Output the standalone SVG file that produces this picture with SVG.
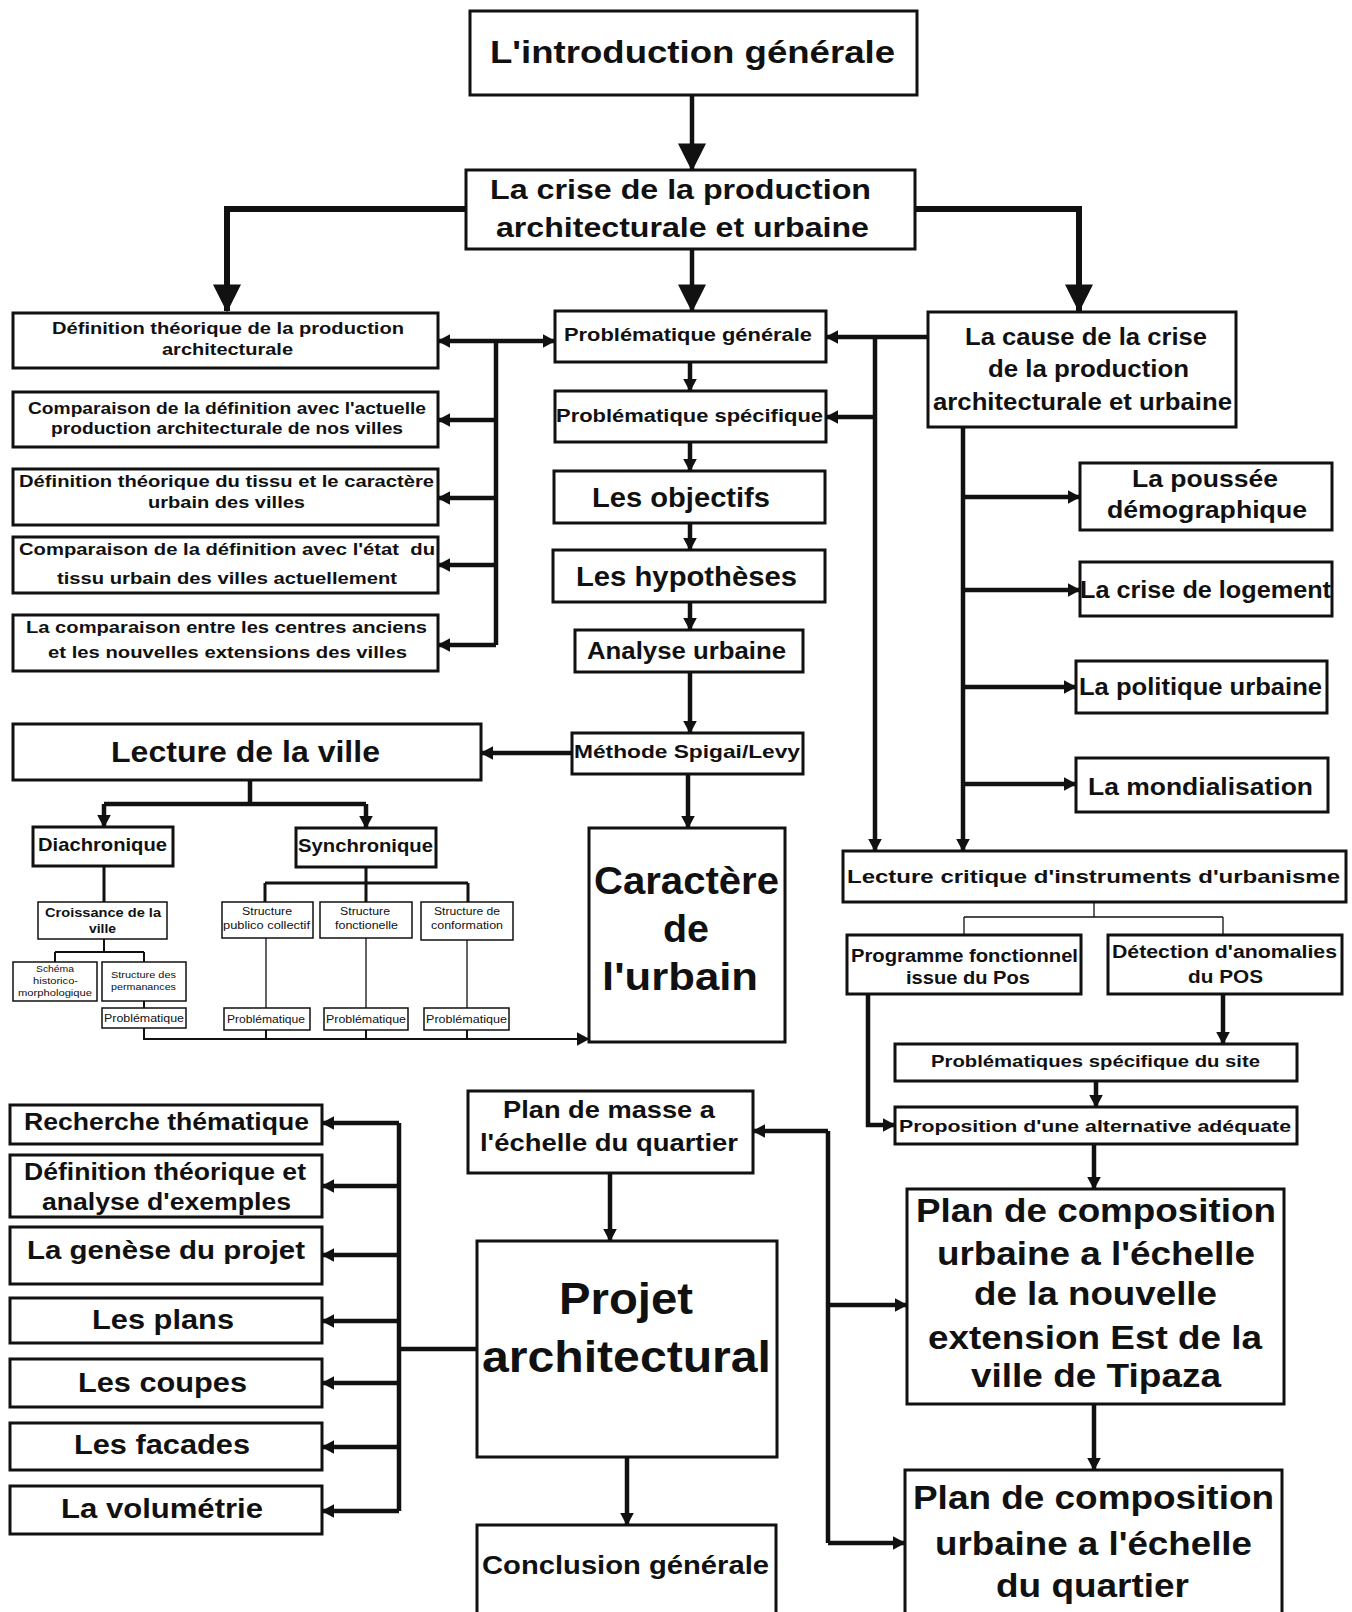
<svg xmlns="http://www.w3.org/2000/svg" width="1352" height="1612" viewBox="0 0 1352 1612">
<style>
.b{fill:#fff;stroke:#111;stroke-width:3}
.bt{fill:#fff;stroke:#111;stroke-width:1.5}
.t{font-family:"Liberation Sans",Arial,sans-serif;font-weight:bold;fill:#111}
.n{font-family:"Liberation Sans",Arial,sans-serif;font-weight:normal;fill:#111}
.c{fill:none;stroke:#111;stroke-width:4.5}
.c6{fill:none;stroke:#111;stroke-width:6}
.c3{fill:none;stroke:#111;stroke-width:3}
.c2{fill:none;stroke:#111;stroke-width:2}
.c1{fill:none;stroke:#111;stroke-width:1.3}
</style>
<defs>
<marker id="aB" viewBox="0 0 10 10" refX="9.5" refY="5" markerWidth="28" markerHeight="28" markerUnits="userSpaceOnUse" orient="auto" preserveAspectRatio="none"><path d="M0,0 L10,5 L0,10 z" fill="#111"/></marker>
<marker id="aM" viewBox="0 0 10 10" refX="9.5" refY="5" markerWidth="13" markerHeight="14" markerUnits="userSpaceOnUse" orient="auto-start-reverse" preserveAspectRatio="none"><path d="M0,0 L10,5 L0,10 z" fill="#111"/></marker>
</defs>
<rect width="1352" height="1612" fill="#fff"/>

<g id="connectors">
<path class="c" d="M692,95 V170" marker-end="url(#aB)"/>
<path class="c6" d="M466,209 H227 V311" marker-end="url(#aB)"/>
<path class="c6" d="M915,209 H1079 V311" marker-end="url(#aB)"/>
<path class="c" d="M692,249 V311" marker-end="url(#aB)"/>
<path class="c" d="M438,341 H555" marker-start="url(#aM)" marker-end="url(#aM)"/>
<path class="c" d="M496,341 V645"/>
<path class="c" d="M496,420 H438" marker-end="url(#aM)"/>
<path class="c" d="M496,498 H438" marker-end="url(#aM)"/>
<path class="c" d="M496,565 H438" marker-end="url(#aM)"/>
<path class="c" d="M496,645 H438" marker-end="url(#aM)"/>
<path class="c" d="M690,362 V391" marker-end="url(#aM)"/>
<path class="c" d="M690,442 V471" marker-end="url(#aM)"/>
<path class="c" d="M690,523 V550" marker-end="url(#aM)"/>
<path class="c" d="M690,602 V630" marker-end="url(#aM)"/>
<path class="c" d="M690,672 V733" marker-end="url(#aM)"/>
<path class="c" d="M928,337 H826" marker-end="url(#aM)"/>
<path class="c" d="M875,337 V851" marker-end="url(#aM)"/>
<path class="c" d="M875,417 H826" marker-end="url(#aM)"/>
<path class="c" d="M963,427 V851" marker-end="url(#aM)"/>
<path class="c" d="M963,497 H1080" marker-end="url(#aM)"/>
<path class="c" d="M963,590 H1080" marker-end="url(#aM)"/>
<path class="c" d="M963,687 H1076" marker-end="url(#aM)"/>
<path class="c" d="M963,784 H1076" marker-end="url(#aM)"/>
<path class="c" d="M572,753 H481" marker-end="url(#aM)"/>
<path class="c" d="M688,774 V828" marker-end="url(#aM)"/>
<path class="c" d="M250,780 V804 M104,804 H366"/>
<path class="c" d="M104,804 V827" marker-end="url(#aM)"/>
<path class="c" d="M366,804 V828" marker-end="url(#aM)"/>
<path class="c3" d="M104,866 V902"/>
<path class="c2" d="M104,939 V952 M55,952 H144 M55,952 V962 M144,952 V962"/>
<path class="c3" d="M366,867 V883 M265,883 H468 M265,883 V902 M366,883 V902 M468,883 V902"/>
<path class="c1" d="M266,938 V1008 M366,938 V1008 M467,940 V1008"/>
<path class="c2" d="M144,1001 V1008"/>
<path class="c2" d="M144,1028 V1039 H589" marker-end="url(#aM)"/>
<path class="c2" d="M266,1030 V1039 M366,1030 V1039 M467,1030 V1039"/>
<path class="c1" d="M1094,902 V917 M964,917 H1223 M964,917 V935 M1223,917 V935"/>
<path class="c" d="M1223,994 V1044" marker-end="url(#aM)"/>
<path class="c" d="M1096,1081 V1107" marker-end="url(#aM)"/>
<path class="c" d="M868,994 V1125 H895" marker-end="url(#aM)"/>
<path class="c" d="M1094,1144 V1189" marker-end="url(#aM)"/>
<path class="c" d="M1094,1404 V1470" marker-end="url(#aM)"/>
<path class="c" d="M828,1131 H753" marker-end="url(#aM)"/>
<path class="c" d="M828,1131 V1543"/>
<path class="c" d="M828,1305 H907" marker-end="url(#aM)"/>
<path class="c" d="M828,1543 H905" marker-end="url(#aM)"/>
<path class="c" d="M610,1173 V1241" marker-end="url(#aM)"/>
<path class="c" d="M627,1457 V1525" marker-end="url(#aM)"/>
<path class="c" d="M477,1349 H399 M399,1123 V1511"/>
<path class="c" d="M399,1123 H322" marker-end="url(#aM)"/>
<path class="c" d="M399,1186 H322" marker-end="url(#aM)"/>
<path class="c" d="M399,1255 H322" marker-end="url(#aM)"/>
<path class="c" d="M399,1321 H322" marker-end="url(#aM)"/>
<path class="c" d="M399,1383 H322" marker-end="url(#aM)"/>
<path class="c" d="M399,1447 H322" marker-end="url(#aM)"/>
<path class="c" d="M399,1511 H322" marker-end="url(#aM)"/>
</g>

<g id="intro"><rect class="b" x="470" y="11" width="447" height="84"/><text class="t" x="490" y="63" font-size="32" textLength="405" lengthAdjust="spacingAndGlyphs">L'introduction générale</text></g>
<g id="crise"><rect class="b" x="466" y="170" width="449" height="79"/><text class="t" x="490" y="199" font-size="27" textLength="381" lengthAdjust="spacingAndGlyphs">La crise de la production</text><text class="t" x="496" y="237" font-size="27" textLength="373" lengthAdjust="spacingAndGlyphs">architecturale et urbaine</text></g>

<g id="def-prod"><rect class="b" x="13" y="313" width="425" height="55"/><text class="t" x="52" y="334" font-size="17" textLength="352" lengthAdjust="spacingAndGlyphs">Définition théorique de la production</text><text class="t" x="162" y="355" font-size="17" textLength="131" lengthAdjust="spacingAndGlyphs">architecturale</text></g>
<g id="comp-actuelle"><rect class="b" x="13" y="392" width="425" height="55"/><text class="t" x="28" y="414" font-size="17" textLength="398" lengthAdjust="spacingAndGlyphs">Comparaison de la définition avec l'actuelle</text><text class="t" x="51" y="434" font-size="17" textLength="352" lengthAdjust="spacingAndGlyphs">production architecturale de nos villes</text></g>
<g id="def-tissu"><rect class="b" x="13" y="469" width="425" height="56"/><text class="t" x="19" y="487" font-size="17" textLength="415" lengthAdjust="spacingAndGlyphs">Définition théorique du tissu et le caractère</text><text class="t" x="148" y="508" font-size="17" textLength="157" lengthAdjust="spacingAndGlyphs">urbain des villes</text></g>
<g id="comp-etat"><rect class="b" x="13" y="537" width="425" height="56"/><text class="t" x="19" y="555" font-size="17" textLength="416" lengthAdjust="spacingAndGlyphs" xml:space="preserve">Comparaison de la définition avec l'état  du</text><text class="t" x="57" y="584" font-size="17" textLength="340" lengthAdjust="spacingAndGlyphs">tissu urbain des villes actuellement</text></g>
<g id="comp-centres"><rect class="b" x="13" y="615" width="425" height="56"/><text class="t" x="26" y="633" font-size="17" textLength="401" lengthAdjust="spacingAndGlyphs">La comparaison entre les centres anciens</text><text class="t" x="48" y="658" font-size="17" textLength="359" lengthAdjust="spacingAndGlyphs">et les nouvelles extensions des villes</text></g>

<g id="prob-gen"><rect class="b" x="555" y="311" width="271" height="51"/><text class="t" x="564" y="341" font-size="18" textLength="248" lengthAdjust="spacingAndGlyphs">Problématique générale</text></g>
<g id="prob-spec"><rect class="b" x="555" y="391" width="271" height="51"/><text class="t" x="556" y="422" font-size="18" textLength="267" lengthAdjust="spacingAndGlyphs">Problématique spécifique</text></g>
<g id="objectifs"><rect class="b" x="554" y="471" width="271" height="52"/><text class="t" x="592" y="507" font-size="27" textLength="178" lengthAdjust="spacingAndGlyphs">Les objectifs</text></g>
<g id="hypotheses"><rect class="b" x="553" y="550" width="272" height="52"/><text class="t" x="576" y="586" font-size="27" textLength="221" lengthAdjust="spacingAndGlyphs">Les hypothèses</text></g>
<g id="analyse"><rect class="b" x="575" y="630" width="228" height="42"/><text class="t" x="587" y="659" font-size="23" textLength="199" lengthAdjust="spacingAndGlyphs">Analyse urbaine</text></g>
<g id="methode"><rect class="b" x="572" y="733" width="231" height="41"/><text class="t" x="574" y="758" font-size="19" textLength="226" lengthAdjust="spacingAndGlyphs">Méthode Spigai/Levy</text></g>
<g id="caractere"><rect class="b" x="589" y="828" width="196" height="214"/><text class="t" x="594" y="894" font-size="38" textLength="185" lengthAdjust="spacingAndGlyphs">Caractère</text><text class="t" x="663" y="942" font-size="38" textLength="46" lengthAdjust="spacingAndGlyphs">de</text><text class="t" x="602" y="990" font-size="38" textLength="156" lengthAdjust="spacingAndGlyphs">l'urbain</text></g>

<g id="cause"><rect class="b" x="928" y="312" width="308" height="115"/><text class="t" x="965" y="345" font-size="23" textLength="242" lengthAdjust="spacingAndGlyphs">La cause de la crise</text><text class="t" x="988" y="377" font-size="23" textLength="201" lengthAdjust="spacingAndGlyphs">de la production</text><text class="t" x="933" y="410" font-size="23" textLength="299" lengthAdjust="spacingAndGlyphs">architecturale et urbaine</text></g>
<g id="poussee"><rect class="b" x="1080" y="463" width="252" height="67"/><text class="t" x="1132" y="487" font-size="23" textLength="146" lengthAdjust="spacingAndGlyphs">La poussée</text><text class="t" x="1107" y="518" font-size="23" textLength="200" lengthAdjust="spacingAndGlyphs">démographique</text></g>
<g id="logement"><rect class="b" x="1080" y="562" width="252" height="54"/><text class="t" x="1080" y="598" font-size="23" textLength="251" lengthAdjust="spacingAndGlyphs">La crise de logement</text></g>
<g id="politique"><rect class="b" x="1076" y="661" width="251" height="52"/><text class="t" x="1079" y="695" font-size="23" textLength="243" lengthAdjust="spacingAndGlyphs">La politique urbaine</text></g>
<g id="mondialisation"><rect class="b" x="1076" y="758" width="252" height="54"/><text class="t" x="1088" y="795" font-size="23" textLength="225" lengthAdjust="spacingAndGlyphs">La mondialisation</text></g>

<g id="lecture-critique"><rect class="b" x="843" y="851" width="503" height="51"/><text class="t" x="847" y="883" font-size="19" textLength="493" lengthAdjust="spacingAndGlyphs">Lecture critique d'instruments d'urbanisme</text></g>
<g id="programme"><rect class="b" x="847" y="935" width="234" height="59"/><text class="t" x="851" y="962" font-size="18" textLength="227" lengthAdjust="spacingAndGlyphs">Programme fonctionnel</text><text class="t" x="906" y="984" font-size="18" textLength="124" lengthAdjust="spacingAndGlyphs">issue du Pos</text></g>
<g id="detection"><rect class="b" x="1108" y="935" width="234" height="59"/><text class="t" x="1112" y="958" font-size="18" textLength="225" lengthAdjust="spacingAndGlyphs">Détection d'anomalies</text><text class="t" x="1188" y="983" font-size="18" textLength="75" lengthAdjust="spacingAndGlyphs">du POS</text></g>
<g id="prob-site"><rect class="b" x="895" y="1044" width="402" height="37"/><text class="t" x="931" y="1067" font-size="17" textLength="329" lengthAdjust="spacingAndGlyphs">Problématiques spécifique du site</text></g>
<g id="proposition"><rect class="b" x="895" y="1107" width="402" height="37"/><text class="t" x="899" y="1132" font-size="17" textLength="392" lengthAdjust="spacingAndGlyphs">Proposition d'une alternative adéquate</text></g>
<g id="plan-tipaza"><rect class="b" x="907" y="1189" width="377" height="215"/><text class="t" x="916" y="1222" font-size="34" textLength="360" lengthAdjust="spacingAndGlyphs">Plan de composition</text><text class="t" x="937" y="1265" font-size="34" textLength="318" lengthAdjust="spacingAndGlyphs">urbaine a l'échelle</text><text class="t" x="974" y="1305" font-size="34" textLength="243" lengthAdjust="spacingAndGlyphs">de la nouvelle</text><text class="t" x="928" y="1349" font-size="34" textLength="334" lengthAdjust="spacingAndGlyphs">extension Est de la</text><text class="t" x="971" y="1387" font-size="34" textLength="250" lengthAdjust="spacingAndGlyphs">ville de Tipaza</text></g>
<g id="plan-quartier"><rect class="b" x="905" y="1470" width="377" height="160"/><text class="t" x="913" y="1509" font-size="34" textLength="361" lengthAdjust="spacingAndGlyphs">Plan de composition</text><text class="t" x="935" y="1555" font-size="34" textLength="317" lengthAdjust="spacingAndGlyphs">urbaine a l'échelle</text><text class="t" x="996" y="1597" font-size="34" textLength="193" lengthAdjust="spacingAndGlyphs">du quartier</text></g>

<g id="plan-masse"><rect class="b" x="468" y="1091" width="285" height="82"/><text class="t" x="503" y="1118" font-size="24" textLength="212" lengthAdjust="spacingAndGlyphs">Plan de masse a</text><text class="t" x="480" y="1151" font-size="24" textLength="258" lengthAdjust="spacingAndGlyphs">l'échelle du quartier</text></g>
<g id="projet"><rect class="b" x="477" y="1241" width="300" height="216"/><text class="t" x="559" y="1314" font-size="44" textLength="134" lengthAdjust="spacingAndGlyphs">Projet</text><text class="t" x="482" y="1372" font-size="44" textLength="289" lengthAdjust="spacingAndGlyphs">architectural</text></g>
<g id="conclusion"><rect class="b" x="477" y="1525" width="299" height="100"/><text class="t" x="482" y="1574" font-size="26" textLength="287" lengthAdjust="spacingAndGlyphs">Conclusion générale</text></g>

<g id="recherche"><rect class="b" x="10" y="1105" width="312" height="39"/><text class="t" x="24" y="1130" font-size="23" textLength="285" lengthAdjust="spacingAndGlyphs">Recherche thématique</text></g>
<g id="def-exemples"><rect class="b" x="10" y="1155" width="312" height="62"/><text class="t" x="24" y="1180" font-size="23" textLength="282" lengthAdjust="spacingAndGlyphs">Définition théorique et</text><text class="t" x="42" y="1210" font-size="23" textLength="249" lengthAdjust="spacingAndGlyphs">analyse d'exemples</text></g>
<g id="genese"><rect class="b" x="10" y="1227" width="312" height="57"/><text class="t" x="27" y="1259" font-size="25" textLength="278" lengthAdjust="spacingAndGlyphs">La genèse du projet</text></g>
<g id="plans"><rect class="b" x="10" y="1298" width="312" height="45"/><text class="t" x="92" y="1329" font-size="27" textLength="142" lengthAdjust="spacingAndGlyphs">Les plans</text></g>
<g id="coupes"><rect class="b" x="10" y="1359" width="312" height="48"/><text class="t" x="78" y="1392" font-size="27" textLength="169" lengthAdjust="spacingAndGlyphs">Les coupes</text></g>
<g id="facades"><rect class="b" x="10" y="1423" width="312" height="47"/><text class="t" x="74" y="1454" font-size="27" textLength="176" lengthAdjust="spacingAndGlyphs">Les facades</text></g>
<g id="volumetrie"><rect class="b" x="10" y="1486" width="312" height="48"/><text class="t" x="61" y="1518" font-size="27" textLength="202" lengthAdjust="spacingAndGlyphs">La volumétrie</text></g>

<g id="lecture-ville"><rect class="b" x="13" y="724" width="468" height="56"/><text class="t" x="111" y="762" font-size="30" textLength="269" lengthAdjust="spacingAndGlyphs">Lecture de la ville</text></g>
<g id="diachronique"><rect class="b" x="33" y="827" width="140" height="39"/><text class="t" x="38" y="851" font-size="19" textLength="129" lengthAdjust="spacingAndGlyphs">Diachronique</text></g>
<g id="synchronique"><rect class="b" x="296" y="828" width="140" height="39"/><text class="t" x="298" y="852" font-size="19" textLength="135" lengthAdjust="spacingAndGlyphs">Synchronique</text></g>
<g id="croissance"><rect class="bt" x="38" y="902" width="129" height="37"/><text class="t" x="45" y="917" font-size="13" textLength="116" lengthAdjust="spacingAndGlyphs">Croissance de la</text><text class="t" x="89" y="933" font-size="13" textLength="27" lengthAdjust="spacingAndGlyphs">ville</text></g>
<g id="schema"><rect class="bt" x="13" y="962" width="84" height="39"/><text class="n" x="36" y="972" font-size="9" textLength="38" lengthAdjust="spacingAndGlyphs">Schéma</text><text class="n" x="33" y="984" font-size="9" textLength="45" lengthAdjust="spacingAndGlyphs">historico-</text><text class="n" x="18" y="996" font-size="9" textLength="74" lengthAdjust="spacingAndGlyphs">morphologique</text></g>
<g id="permanances"><rect class="bt" x="102" y="962" width="84" height="39"/><text class="n" x="111" y="978" font-size="9" textLength="65" lengthAdjust="spacingAndGlyphs">Structure des</text><text class="n" x="111" y="990" font-size="9" textLength="65" lengthAdjust="spacingAndGlyphs">permanances</text></g>
<g id="prob-1"><rect class="bt" x="102" y="1008" width="84" height="20"/><text class="n" x="104" y="1022" font-size="11" textLength="80" lengthAdjust="spacingAndGlyphs">Problématique</text></g>
<g id="struct-publico"><rect class="bt" x="222" y="902" width="91" height="36"/><text class="n" x="242" y="915" font-size="10" textLength="50" lengthAdjust="spacingAndGlyphs">Structure</text><text class="n" x="223" y="929" font-size="10" textLength="87" lengthAdjust="spacingAndGlyphs">publico collectif</text></g>
<g id="struct-fonc"><rect class="bt" x="320" y="902" width="92" height="36"/><text class="n" x="340" y="915" font-size="10" textLength="50" lengthAdjust="spacingAndGlyphs">Structure</text><text class="n" x="335" y="929" font-size="10" textLength="63" lengthAdjust="spacingAndGlyphs">fonctionelle</text></g>
<g id="struct-conf"><rect class="bt" x="421" y="902" width="92" height="38"/><text class="n" x="434" y="915" font-size="10" textLength="66" lengthAdjust="spacingAndGlyphs">Structure de</text><text class="n" x="431" y="929" font-size="10" textLength="72" lengthAdjust="spacingAndGlyphs">conformation</text></g>
<g id="prob-2"><rect class="bt" x="224" y="1008" width="86" height="22"/><text class="n" x="227" y="1023" font-size="11" textLength="78" lengthAdjust="spacingAndGlyphs">Problématique</text></g>
<g id="prob-3"><rect class="bt" x="324" y="1008" width="84" height="22"/><text class="n" x="326" y="1023" font-size="11" textLength="80" lengthAdjust="spacingAndGlyphs">Problématique</text></g>
<g id="prob-4"><rect class="bt" x="424" y="1008" width="85" height="22"/><text class="n" x="426" y="1023" font-size="11" textLength="81" lengthAdjust="spacingAndGlyphs">Problématique</text></g>
</svg>
